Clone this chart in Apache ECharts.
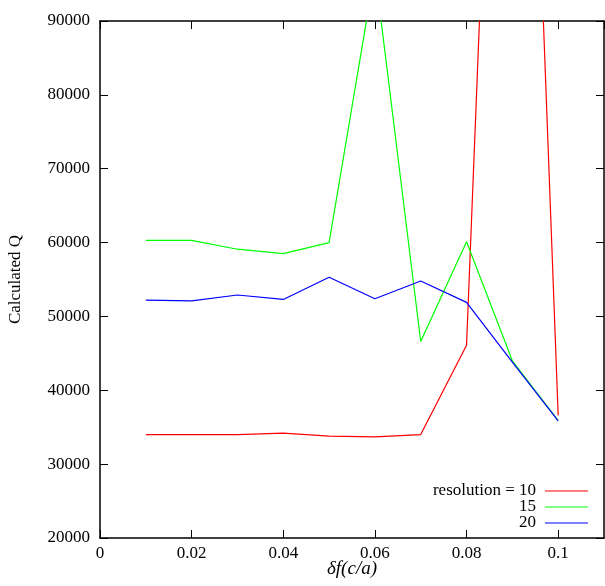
<!DOCTYPE html>
<html>
<head>
<meta charset="utf-8">
<script src="https://cdn.jsdelivr.net/npm/echarts@6/dist/echarts.min.js"></script>
<style>
  html, body { margin: 0; padding: 0; background: #fff; }
  #chart { width: 605px; height: 586px; }
</style>
</head>
<body>
<div id="chart"></div>
<script>
// Frequency offsets δf (c/a)
const deltaF = [0.01, 0.02, 0.03, 0.04, 0.05, 0.06, 0.07, 0.08, 0.09, 0.1];
// Calculated Q for each grid resolution
const qRes10 = [34000, 34000, 34000, 34200, 33800, 33700, 34000, 46100, 202000, 36600];
const qRes15 = [60300, 60300, 59100, 58500, 60000, 96800, 46600, 60100, 44000, 35900];
const qRes20 = [52200, 52100, 52900, 52300, 55300, 52400, 54800, 51900, 43800, 35850];
const seriesNames = ['10', '15', '20'];
const legendLabels = ['resolution = 10', '15', '20'];
const xTicks = [0, 0.02, 0.04, 0.06, 0.08, 0.1];
const yTicks = [20000, 30000, 40000, 50000, 60000, 70000, 80000, 90000];

const colors = ['#ff0000', '#00ff00', '#0000ff'];
const font = '"Liberation Serif", "DejaVu Serif", serif';

const pairs = ys => deltaF.map((x, i) => [x, ys[i]]);

// fresh style objects for each axis (gnuplot-like inward ticks, mirrored on top/right)
const axisLine = () => ({ show: true, onZero: false, lineStyle: { color: '#000', width: 1.5 } });
const tick = () => ({ show: true, inside: true, length: 8, lineStyle: { color: '#000', width: 1 } });

const chart = echarts.init(document.getElementById('chart'));
chart.setOption({
  animation: false,
  backgroundColor: '#fff',
  grid: { left: 100, top: 21, right: 1, bottom: 48, outerBoundsMode: 'none', containLabel: false },
  xAxis: [
    {
      type: 'value', position: 'bottom', min: 0, max: 0.11, interval: 0.02,
      axisLine: axisLine(), axisTick: tick(), splitLine: { show: false },
      axisLabel: {
        color: '#000', fontFamily: font, fontSize: 17, margin: 7,
        showMaxLabel: false,
        formatter: v => {
          const r = Math.round(v * 100) / 100;
          return xTicks.some(t => Math.abs(t - r) < 1e-9) ? String(r) : '';
        }
      },
      name: 'δf(c/a)', nameLocation: 'middle', nameGap: 31, nameMoveOverlap: false,
      nameTextStyle: { color: '#000', fontFamily: font, fontSize: 19, fontStyle: 'italic', verticalAlign: 'middle' }
    },
    {
      type: 'value', position: 'top', min: 0, max: 0.11, interval: 0.02,
      axisLine: axisLine(), axisTick: tick(), axisLabel: { show: false }, splitLine: { show: false }
    }
  ],
  yAxis: [
    {
      type: 'value', position: 'left', min: yTicks[0], max: yTicks[yTicks.length - 1], interval: 10000,
      axisLine: axisLine(), axisTick: tick(), splitLine: { show: false },
      axisLabel: { color: '#000', fontFamily: font, fontSize: 17, margin: 10, formatter: v => String(v) },
      name: 'Calculated Q', nameLocation: 'middle', nameGap: 76, nameRotate: 90,
      nameTextStyle: { color: '#000', fontFamily: font, fontSize: 17 }
    },
    {
      type: 'value', position: 'right', min: yTicks[0], max: yTicks[yTicks.length - 1], interval: 10000,
      axisLine: axisLine(), axisTick: tick(), axisLabel: { show: false }, splitLine: { show: false }
    }
  ],
  series: [qRes10, qRes15, qRes20].map((ys, i) => ({
    name: seriesNames[i],
    type: 'line',
    data: pairs(ys),
    showSymbol: false,
    clip: true,
    lineStyle: { color: colors[i], width: 1.2 },
    itemStyle: { color: colors[i] },
    z: 2 + i
  })),
  graphic: [
    ...legendLabels.map((t, i) => ({
      type: 'text', x: 536, y: 491 + i * 16,
      style: { text: t, fill: '#000', font: '17px ' + font, align: 'right', verticalAlign: 'middle' }
    })),
    ...colors.map((c, i) => ({
      type: 'line', shape: { x1: 545, y1: 491 + i * 16, x2: 588, y2: 491 + i * 16 },
      style: { stroke: c, lineWidth: 1.2 }
    }))
  ]
});
</script>
</body>
</html>
